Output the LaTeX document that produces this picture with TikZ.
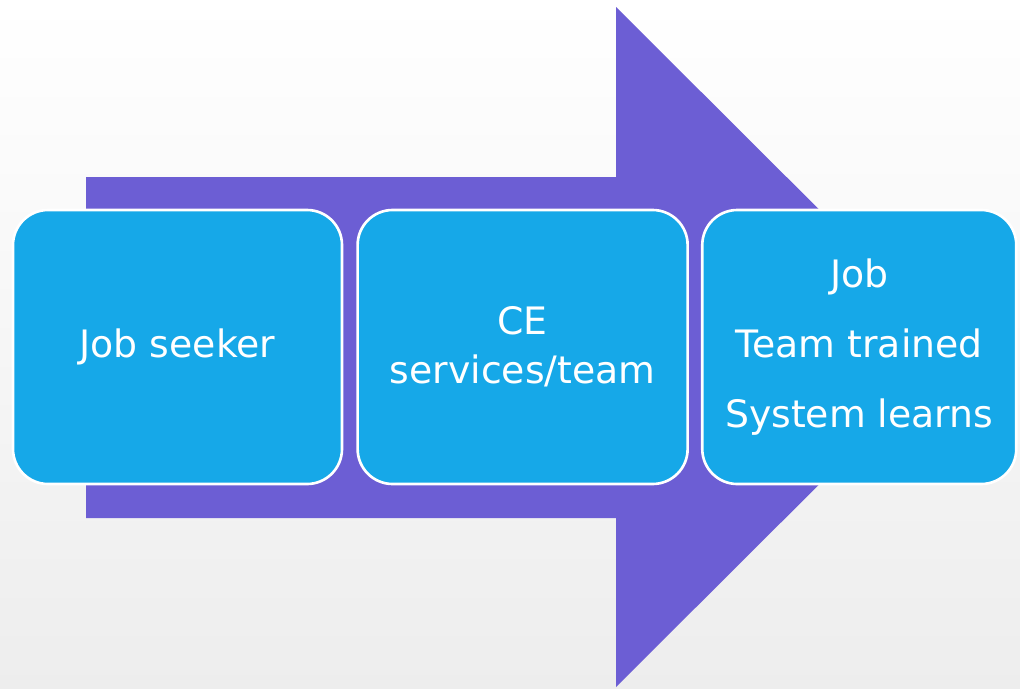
\documentclass[tikz,border=0pt]{standalone}
\usepackage{xcolor}
\usepackage{tikz}
\usetikzlibrary{shapes, arrows.meta, positioning}
\usepackage{fontspec}
\setmainfont{DejaVu Sans}

\definecolor{flowpurple}{RGB}{108,94,212}
\definecolor{stageblue}{RGB}{22,168,232}

\begin{document}
\begin{tikzpicture}[
        stagebox/.style={draw=white, line width=1.5pt, fill=stageblue, rounded corners=0.7cm,
            minimum height=5.48cm, align=center, text=white,
            font=\fontsize{21.5}{28}\selectfont}
    ]
            % background
            \shade[top color=white, bottom color=gray!14] (0,0) rectangle (20.4,-13.76);
            \useasboundingbox (0,0) rectangle (20.4,-13.76);

            % big arrow behind the stages
            \fill[flowpurple] (1.72,-3.54) -- (12.32,-3.54) -- (12.32,-0.14) -- (19.14,-6.94)
                -- (12.32,-13.74) -- (12.32,-10.36) -- (1.72,-10.36) -- cycle;

            % stages
            \node[stagebox, minimum width=6.58cm] (seeker) at (3.55,-6.94) {Job seeker};
            \node[stagebox, minimum width=6.6cm, right=0.26cm of seeker] (services) {CE\\services/team};
            \node[stagebox, minimum width=6.28cm, right=0.24cm of services] (outcome) {Job\\[12pt]Team trained\\[12pt]System learns};
        \end{tikzpicture}
\end{document}
